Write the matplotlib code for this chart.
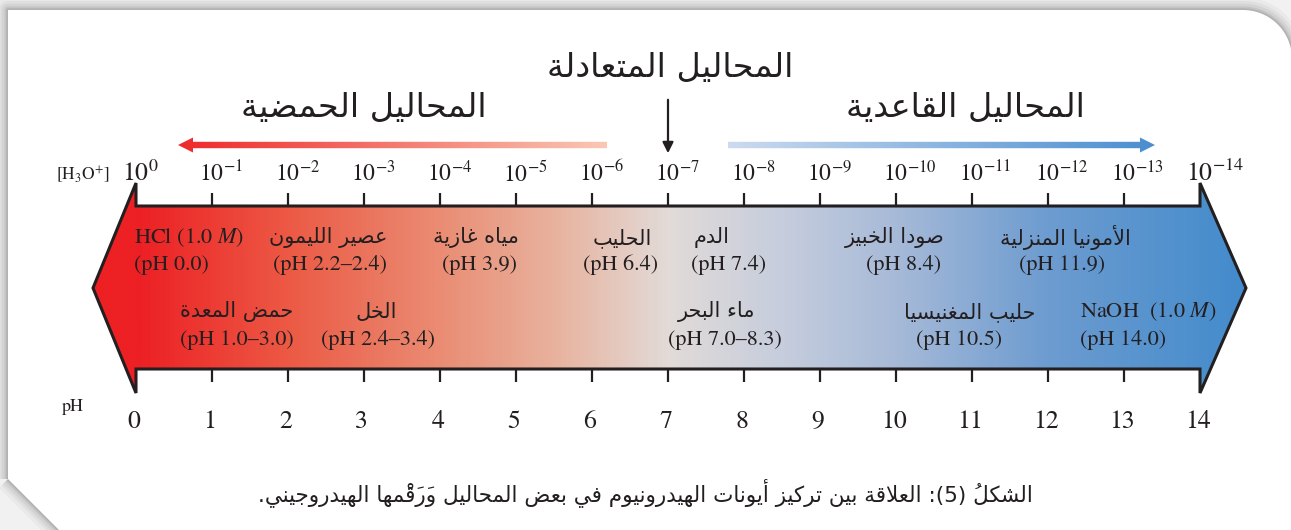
import numpy as np
import matplotlib
matplotlib.use('Agg')
import matplotlib.pyplot as plt
from matplotlib.colors import LinearSegmentedColormap, Normalize
from matplotlib.patches import Polygon

plt.rcParams['font.family'] = ['STIXGeneral', 'DejaVu Sans']
plt.rcParams['mathtext.fontset'] = 'stix'

# ---- data ----
ph_ticks = [0, 1, 2, 3, 4, 5, 6, 7, 8, 9, 10, 11, 12, 13, 14]
h3o_exponents = [0, -1, -2, -3, -4, -5, -6, -7, -8, -9, -10, -11, -12, -13, -14]
ph_tick_labels = ['0', '1', '2', '3', '4', '5', '6', '7', '8', '9', '10', '11', '12', '13', '14']

row1_names = ['HCl (1.0 $\\mathit{M}$)', 'عصير الليمون', 'مياه غازية', 'الحليب', 'الدم',
              'صودا الخبيز', 'الأمونيا المنزلية']
row1_ph = ['(pH 0.0)', '(pH 2.2–2.4)', '(pH 3.9)', '(pH 6.4)', '(pH 7.4)', '(pH 8.4)', '(pH 11.9)']
row2_names = ['حمض المعدة', 'الخل', 'ماء البحر', 'حليب المغنيسيا', 'NaOH  (1.0 $\\mathit{M}$)']
row2_ph = ['(pH 1.0–3.0)', '(pH 2.4–3.4)', '(pH 7.0–8.3)', '(pH 10.5)', '(pH 14.0)']

title_neutral = 'المحاليل المتعادلة'
title_acid = 'المحاليل الحمضية'
title_base = 'المحاليل القاعدية'
caption = 'الشكلُ (5): العلاقة بين تركيز أيونات الهيدرونيوم في بعض المحاليل وَرَقْمها الهيدروجيني.'

# colour along the pH scale
grad_ph = [0, 2, 4, 5.5, 7, 8.5, 10, 12, 14.6]
grad_colors = ['#ed2024', '#ec5a45', '#ea8d74', '#e8b29e', '#e2dbd8', '#c6cddd', '#a7bad8', '#6d9cd0', '#438bcc']

# ---- layout (pixels) ----
X0, PX = 136.0, 76.0
def ph_x(px):
    return (px - X0) / PX

# label positions (pixel centre of name, pixel centre of pH line, alignment)
row1_pos = [(134, 134, 'left'), (328, 330, 'center'), (476, 480, 'center'), (622, 621, 'center'),
            (712, 729, 'center'), (895, 904, 'center'), (1065, 1062, 'center')]
row2_pos = [(237, 237, 'center'), (376, 378, 'center'), (717, 725, 'center'),
            (970, 959, 'center'), (1080, 1080, 'left')]

# ---- simple arabic shaping (presentation forms + visual order) ----
AR_DUAL = {'ب': 0xFE8F, 'ت': 0xFE95, 'ث': 0xFE99, 'ج': 0xFE9D, 'ح': 0xFEA1, 'خ': 0xFEA5,
           'س': 0xFEB1, 'ش': 0xFEB5, 'ص': 0xFEB9, 'ض': 0xFEBD, 'ط': 0xFEC1, 'ظ': 0xFEC5,
           'ع': 0xFEC9, 'غ': 0xFECD, 'ف': 0xFED1, 'ق': 0xFED5, 'ك': 0xFED9, 'ل': 0xFEDD,
           'م': 0xFEE1, 'ن': 0xFEE5, 'ه': 0xFEE9, 'ي': 0xFEF1, 'ئ': 0xFE89}
AR_RIGHT = {'آ': 0xFE81, 'أ': 0xFE83, 'ؤ': 0xFE85, 'إ': 0xFE87, 'ا': 0xFE8D, 'ة': 0xFE93,
            'د': 0xFEA9, 'ذ': 0xFEAB, 'ر': 0xFEAD, 'ز': 0xFEAF, 'و': 0xFEED, 'ى': 0xFEEF,
            'لآ': 0xFEF5, 'لأ': 0xFEF7, 'لإ': 0xFEF9, 'لا': 0xFEFB}
AR_NONE = {'ء': 0xFE80}
MIRROR = {'(': ')', ')': '('}


def kind(u):
    if u in AR_DUAL:
        return 'D'
    if u in AR_RIGHT:
        return 'R'
    if u in AR_NONE:
        return 'U'
    return None


def arabic(text):
    units = []
    for ch in text:
        if '\u064b' <= ch <= '\u0652' and units:
            units[-1][1] += ch
        elif units and units[-1][0] == 'ل' and ch in 'آأإا' and not units[-1][1]:
            units[-1][0] = 'ل' + ch
        else:
            units.append([ch, ''])
    out = []
    for i, (b, m) in enumerate(units):
        k = kind(b)
        if k is None:
            out.append(m + MIRROR.get(b, b))
            continue
        if k == 'U':
            out.append(m + chr(AR_NONE[b]))
            continue
        prev = kind(units[i - 1][0]) if i > 0 else None
        nxt = kind(units[i + 1][0]) if i + 1 < len(units) else None
        jp = prev == 'D'
        jn = k == 'D' and nxt in ('D', 'R')
        base = AR_DUAL.get(b) or AR_RIGHT.get(b)
        if k == 'D':
            idx = 3 if (jp and jn) else 1 if jp else 2 if jn else 0
        else:
            idx = 1 if jp else 0
        # mark first: the font draws it to the right of the pen
        out.append(m + chr(base + idx))
    return ''.join(reversed(out))


def has_arabic(s):
    return any('\u0600' <= c <= '\u06ff' for c in s)


TXT = '#231f20'
AR_FONT = ['DejaVu Sans']

fig = plt.figure(figsize=(12.91, 5.30), dpi=100)
fig.patch.set_facecolor('#f1f1f1')

# page card in pixel coordinates
bg = fig.add_axes([0, 0, 1, 1])
bg.set_xlim(0, 1291)
bg.set_ylim(530, 0)
bg.axis('off')
theta = np.linspace(np.pi / 2, 0, 30)
arc = [(1243 + 49 * np.cos(t), 59 - 49 * np.sin(t)) for t in theta]
card = [(8, 479), (8, 10)] + arc + [(1292, 540), (69, 540)]
for lw, a in [(18, 0.03), (13, 0.04), (9, 0.05), (5, 0.07), (2.5, 0.09)]:
    bg.add_patch(Polygon(card, closed=True, fc='none', ec='k', lw=lw, alpha=a, joinstyle='round'))
bg.add_patch(Polygon(card, closed=True, fc='white', ec='none'))

ax = fig.add_axes([0, 0, 1, 1])
ax.patch.set_alpha(0)
ax.axis('off')

# main double arrow
TOP, BOT, HT, HB = 206, 369, 183, 393
tipL, tipR, mid = ph_x(93), ph_x(1246), 288
verts = [(tipL, mid), (ph_ticks[0], HT), (ph_ticks[0], TOP), (ph_ticks[-1], TOP), (ph_ticks[-1], HT),
         (tipR, mid), (ph_ticks[-1], HB), (ph_ticks[-1], BOT), (ph_ticks[0], BOT), (ph_ticks[0], HB)]
outline = Polygon(verts, closed=True, fc='none', ec=TXT, lw=2.2, joinstyle='miter', zorder=4)
ax.add_patch(outline)
lo, hi = -0.65, 14.7
cmap = LinearSegmentedColormap.from_list(
    'ph', [(0, grad_colors[0])] + [((p - lo) / (hi - lo), c) for p, c in zip(grad_ph, grad_colors)]
    + [(1, grad_colors[-1])])
im = ax.imshow(np.linspace(lo, hi, 800).reshape(1, -1), cmap=cmap, norm=Normalize(lo, hi),
               extent=[lo, hi, 400, 175], aspect='auto', interpolation='bilinear', zorder=3)
im.set_clip_path(outline)

ax.vlines(ph_ticks[1:-1], TOP - 13, TOP, color=TXT, lw=1.6, zorder=5)
ax.vlines(ph_ticks[1:-1], BOT, BOT + 13, color=TXT, lw=1.6, zorder=5)

# [H3O+] labels
for p, e in zip(ph_ticks, h3o_exponents):
    big = p in (ph_ticks[0], ph_ticks[-1])
    ax.text(p - (0.18 if big else 0.17), 181, '$10^{%d}$' % e if e else '$10^{0}$',
            fontsize=18.5 if big else 17, ha='left', va='baseline', color=TXT)
ax.text(ph_x(56), 180, r'$[\mathrm{H_3O^{+}}]$', fontsize=12.5, ha='left', va='baseline', color=TXT)

# pH labels
for p, lab in zip(ph_ticks, ph_tick_labels):
    ax.text(p - 0.03, 428, lab, fontsize=18.5, ha='center', va='baseline', color=TXT)
ax.text(ph_x(73), 411, 'pH', fontsize=13, ha='center', va='baseline', color=TXT)


def put(x, y, s, size, ha='center'):
    if has_arabic(s):
        ax.text(x, y, arabic(s), fontsize=size, ha=ha, va='center', color=TXT,
                family=AR_FONT, zorder=6)
    else:
        ax.text(x, y, s, fontsize=size, ha=ha, va='center', color=TXT, zorder=6)


for name, phs, (nx, px_, ha) in zip(row1_names, row1_ph, row1_pos):
    put(ph_x(nx), 238, name, 15 if has_arabic(name) else 16, ha)
    put(ph_x(px_), 265, phs, 16, ha)
for name, phs, (nx, px_, ha) in zip(row2_names, row2_ph, row2_pos):
    put(ph_x(nx), 312, name, 15 if has_arabic(name) else 16, ha)
    put(ph_x(px_), 340, phs, 16, ha)

# titles
put(ph_x(670), 68, title_neutral, 24)
put(ph_x(364), 107, title_acid, 24)
put(ph_x(965), 107, title_base, 24)


# gradient arrows above the scale
def grad_arrow(x_tail, x_tip, c_tail, c_tip, y=145, half=3.2, head_len=15, head_half=7.5):
    t0, t1 = ph_x(x_tail), ph_x(x_tip)
    hl = head_len / PX * np.sign(t1 - t0)
    v = [(t0, y - half), (t1 - hl, y - half), (t1 - hl, y - head_half), (t1, y),
         (t1 - hl, y + head_half), (t1 - hl, y + half), (t0, y + half)]
    poly = Polygon(v, closed=True, fc='none', ec='none')
    ax.add_patch(poly)
    cm = LinearSegmentedColormap.from_list('a', [c_tail, c_tip])
    g = np.linspace(0, 1, 300).reshape(1, -1)
    img = ax.imshow(g, cmap=cm, extent=[t0, t1, y + 10, y - 10], aspect='auto', zorder=4)
    img.set_clip_path(poly)


grad_arrow(607, 178, '#f9c8b4', '#ee2a2a')
grad_arrow(728, 1155, '#ccdbef', '#4a8ed0')
ax.annotate('', xy=(ph_ticks[7], 156), xytext=(ph_ticks[7], 97),
            arrowprops=dict(arrowstyle='-|>', color=TXT, lw=1.6, mutation_scale=16))

# caption
bg.text(645, 493, arabic(caption), fontsize=15.5, ha='center', va='center', color=TXT, family=AR_FONT)

ax.set_xlim(ph_x(0), ph_x(1291))
ax.set_ylim(530, 0)

fig.savefig('out.png', dpi=100, facecolor=fig.get_facecolor())
